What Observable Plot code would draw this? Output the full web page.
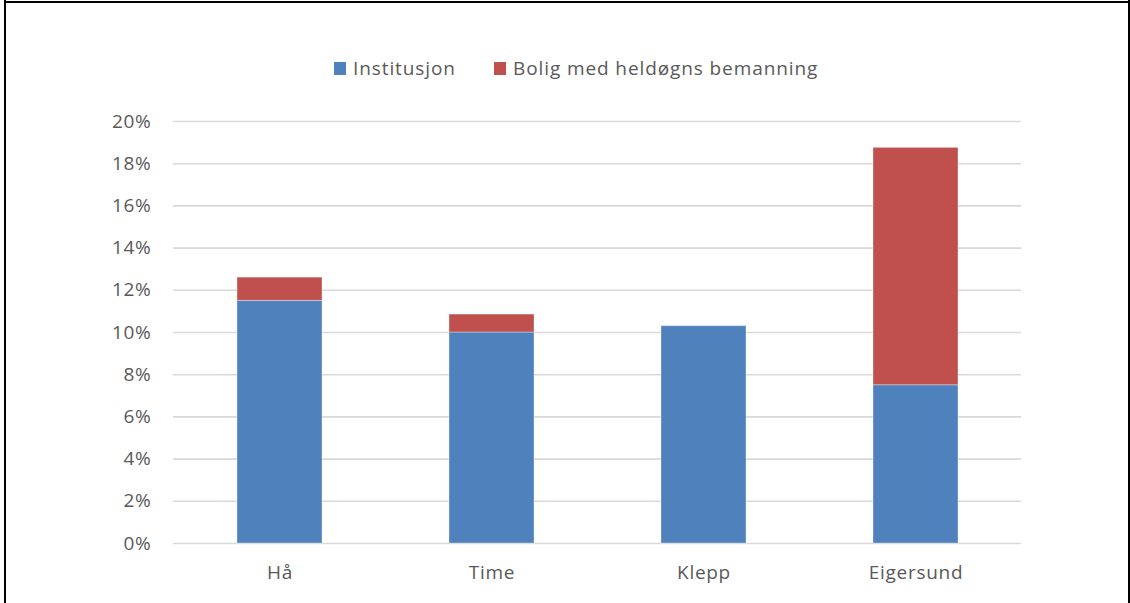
<!DOCTYPE html>
<html>
<head>
<meta charset="utf-8">
<script src="https://cdn.jsdelivr.net/npm/d3@7"></script>
<script src="https://cdn.jsdelivr.net/npm/@observablehq/plot@0.6"></script>
<style>
  html, body { margin: 0; padding: 0; background: #fff; }
  #wrap { position: relative; width: 1130px; height: 603px; overflow: hidden; font-family: "Open Sans", sans-serif; }
  #bl { position: absolute; left: 4px; top: 0; width: 2px; height: 603px; background: #000; }
  #bt { position: absolute; left: 4px; top: 1px; width: 1126px; height: 2px; background: #000; }
  #br { position: absolute; left: 1128px; top: 0; width: 2px; height: 603px; background: #000; }
  #legend { position: absolute; top: 55px; left: 0; width: 1130px; height: 26px; }
  .li { position: absolute; top: 0; display: flex; align-items: center; height: 26px; font-size: 19px; letter-spacing: 0.9px; color: #595959; white-space: nowrap; }
  .sw { width: 12px; height: 13px; margin-right: 7px; }
  #chart { position: absolute; left: 0; top: 0; }
  #chart svg text { letter-spacing: 0.7px; }
</style>
</head>
<body>
<div id="wrap">
  <div id="chart"></div>
  <div id="legend"></div>
  <div id="bl"></div><div id="bt"></div><div id="br"></div>
</div>
<script>
const categories = ["Hå", "Time", "Klepp", "Eigersund"];
const seriesNames = ["Institusjon", "Bolig med heldøgns bemanning"];
const seriesColors = ["#4f81bd", "#c0504d"];
const institusjon = [0.115, 0.100, 0.103, 0.075];
const bolig = [0.011, 0.0085, 0.0, 0.1125];
const yTicks = [0, 0.02, 0.04, 0.06, 0.08, 0.10, 0.12, 0.14, 0.16, 0.18, 0.20];

const rows = [];
categories.forEach((c, i) => {
  rows.push({kommune: c, serie: seriesNames[0], value: institusjon[i]});
  rows.push({kommune: c, serie: seriesNames[1], value: bolig[i]});
});

const chart = Plot.plot({
  width: 1130,
  height: 603,
  marginLeft: 173,
  marginRight: 109,
  marginTop: 121,
  marginBottom: 60,
  style: {fontFamily: "Open Sans, sans-serif", fontSize: "19px", color: "#595959", background: "transparent"},
  x: {domain: categories, paddingInner: 0.6, paddingOuter: 0.3, label: null},
  y: {domain: [0, 0.20], label: null},
  color: {domain: seriesNames, range: seriesColors},
  marks: [
    Plot.gridY(yTicks, {stroke: "#d9d9d9", strokeOpacity: 1, strokeWidth: 1.6}),
    Plot.barY(rows, {x: "kommune", y: "value", fill: "serie", stroke: "#ffffff", strokeOpacity: 0.35, strokeWidth: 1, inset: 0}),
    Plot.axisY(yTicks, {tickFormat: d => Math.round(d * 100) + "%", tickSize: 0, tickPadding: 22, fontSize: 19, fill: "#595959", label: null}),
    Plot.axisX({tickSize: 0, tickPadding: 22, fontSize: 19, fill: "#595959", label: null})
  ]
});
document.getElementById("chart").appendChild(chart);

const legend = document.getElementById("legend");
const legendX = [334, 494];
seriesNames.forEach((s, i) => {
  const item = document.createElement("div");
  item.className = "li";
  item.style.left = legendX[i] + "px";
  const sw = document.createElement("span");
  sw.className = "sw";
  sw.style.background = seriesColors[i];
  const t = document.createElement("span");
  t.textContent = s;
  item.appendChild(sw);
  item.appendChild(t);
  legend.appendChild(item);
});
</script>
</body>
</html>
